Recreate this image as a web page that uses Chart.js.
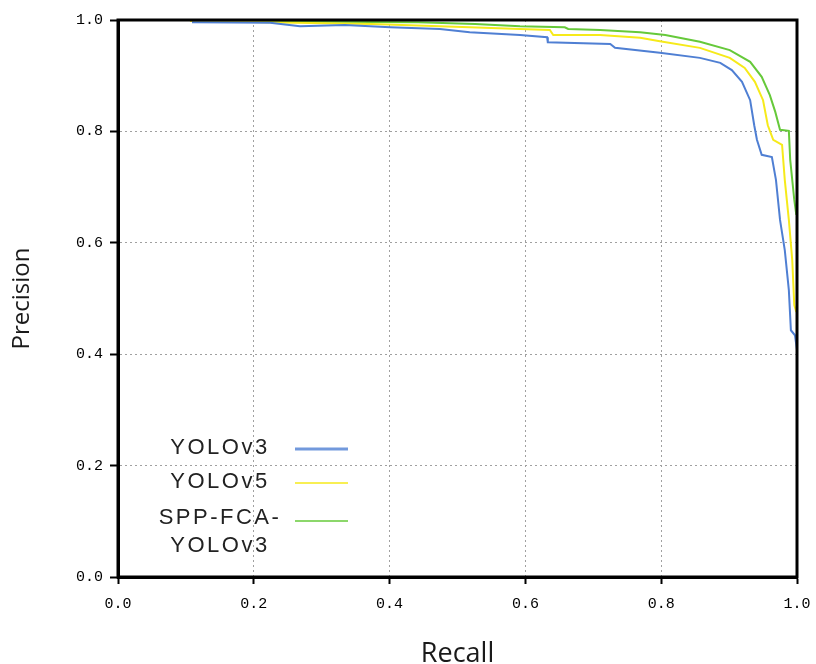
<!DOCTYPE html>
<html>
<head>
<meta charset="utf-8">
<script src="https://cdn.jsdelivr.net/npm/chart.js@4.4.1/dist/chart.umd.min.js"></script>
<style>
  html, body { margin: 0; padding: 0; background: #ffffff; }
  #wrap { width: 816px; height: 664px; }
</style>
</head>
<body>
<div id="wrap"><canvas id="c" width="816" height="664"></canvas></div>
<script>
// ---- Data ----
const seriesLabels = ['YOLOv3', 'YOLOv5', ['SPP-FCA-', 'YOLOv3']];
const yoloV3Recall    = [0.109, 0.224, 0.268, 0.334, 0.401, 0.474, 0.518, 0.592, 0.632, 0.633, 0.725, 0.732, 0.798, 0.857, 0.887, 0.904, 0.919, 0.931, 0.937, 0.941, 0.948, 0.963, 0.969, 0.975, 0.982, 0.988, 0.991, 0.997, 1.000];
const yoloV3Precision = [0.996, 0.995, 0.989, 0.991, 0.987, 0.984, 0.978, 0.973, 0.969, 0.960, 0.957, 0.950, 0.941, 0.932, 0.923, 0.910, 0.889, 0.856, 0.811, 0.785, 0.758, 0.754, 0.713, 0.641, 0.587, 0.515, 0.443, 0.434, 0.408];
const yoloV5Recall    = [0.106, 0.374, 0.518, 0.592, 0.636, 0.641, 0.710, 0.769, 0.798, 0.857, 0.901, 0.923, 0.938, 0.950, 0.957, 0.965, 0.978, 0.982, 0.988, 0.993, 0.996, 0.999];
const yoloV5Precision = [0.998, 0.993, 0.987, 0.984, 0.982, 0.973, 0.973, 0.968, 0.962, 0.950, 0.932, 0.914, 0.889, 0.856, 0.811, 0.785, 0.776, 0.713, 0.641, 0.569, 0.488, 0.476];
const sppRecall       = [0.106, 0.442, 0.526, 0.592, 0.658, 0.663, 0.710, 0.769, 0.806, 0.857, 0.901, 0.931, 0.948, 0.960, 0.968, 0.975, 0.988, 0.990, 0.996, 0.999];
const sppPrecision    = [0.998, 0.996, 0.993, 0.989, 0.987, 0.984, 0.982, 0.978, 0.973, 0.961, 0.946, 0.925, 0.898, 0.865, 0.835, 0.803, 0.801, 0.749, 0.677, 0.650];
const tickValues = [0.0, 0.2, 0.4, 0.6, 0.8, 1.0];

const toPoints = (xs, ys) => xs.map((x, i) => ({ x: x, y: ys[i] }));

const colors = ['#4f7fd3', '#f6ea1a', '#66c93a'];

const frameAndLegend = {
  id: 'frameAndLegend',
  afterDatasetsDraw(chart) {
    const ctx = chart.ctx;
    ctx.save();
    ctx.font = '22px "Liberation Sans", Arial, sans-serif';
    ctx.letterSpacing = '2.5px';
    ctx.fillStyle = '#222222';
    ctx.textAlign = 'center';
    ctx.textBaseline = 'middle';
    const rows = [448, 482, 518];
    const lineRows = [449, 483, 521];
    chart.data.datasets.forEach((ds, i) => {
      const lbl = Array.isArray(ds.label) ? ds.label : [ds.label];
      lbl.forEach((t, j) => ctx.fillText(t, 220, rows[i] + j * 28));
      ctx.beginPath();
      ctx.strokeStyle = ds.borderColor;
      ctx.globalAlpha = i === 0 ? 0.8 : 0.75;
      ctx.lineWidth = i === 0 ? 3 : 2;
      ctx.moveTo(295, lineRows[i]);
      ctx.lineTo(348, lineRows[i]);
      ctx.stroke();
      ctx.globalAlpha = 1;
    });
    ctx.restore();
  },
  afterDraw(chart) {
    const ctx = chart.ctx;
    const a = chart.chartArea;
    ctx.save();
    ctx.strokeStyle = '#000000';
    ctx.lineWidth = 3;
    ctx.strokeRect(a.left, a.top, a.right - a.left, a.bottom - a.top);
    ctx.restore();
  }
};

new Chart(document.getElementById('c'), {
  type: 'line',
  data: {
    datasets: [
      { label: seriesLabels[0], data: toPoints(yoloV3Recall, yoloV3Precision), borderColor: colors[0] },
      { label: seriesLabels[1], data: toPoints(yoloV5Recall, yoloV5Precision), borderColor: colors[1] },
      { label: seriesLabels[2], data: toPoints(sppRecall, sppPrecision), borderColor: colors[2] }
    ].map(d => Object.assign(d, { borderWidth: 2, pointRadius: 0, tension: 0, fill: false }))
  },
  options: {
    responsive: false,
    animation: false,
    layout: { padding: { left: 0, top: 20, right: 19, bottom: 0 } },
    plugins: { legend: { display: false }, tooltip: { enabled: false } },
    scales: {
      x: {
        type: 'linear', min: 0, max: 1,
        afterFit: s => { s.height = 87; s.paddingLeft = 0; s.paddingRight = 0; },
        afterBuildTicks: s => { s.ticks = tickValues.map(v => ({ value: v })); },
        ticks: {
          callback: v => Number(v).toFixed(1),
          font: { family: '"Liberation Mono", monospace', size: 15 },
          color: '#000000', padding: 11, maxRotation: 0
        },
        grid: { color: '#a0a0a0', lineWidth: 1, tickLength: 7, tickColor: '#000000', tickWidth: 2 },
        border: { color: '#000000', width: 3, dash: [2, 3] },
        title: {
          display: true, text: 'Recall', color: '#1a1a1a',
          font: { family: '"Open Sans", sans-serif', size: 27, lineHeight: 0.7 },
          padding: 0
        }
      },
      y: {
        type: 'linear', min: 0, max: 1,
        afterFit: s => { s.width = 118; s.paddingTop = 0; s.paddingBottom = 0; },
        afterBuildTicks: s => { s.ticks = tickValues.map(v => ({ value: v })); },
        ticks: {
          callback: v => Number(v).toFixed(1),
          font: { family: '"Liberation Mono", monospace', size: 15 },
          color: '#000000', padding: 7
        },
        grid: { color: '#a0a0a0', lineWidth: 1, tickLength: 8, tickColor: '#000000', tickWidth: 2 },
        border: { color: '#000000', width: 3, dash: [2, 3] },
        title: {
          display: true, text: 'Precision', color: '#1a1a1a',
          font: { family: '"Open Sans", sans-serif', size: 24, lineHeight: 1.2 },
          padding: { top: 8, bottom: 0 }
        }
      }
    }
  },
  plugins: [frameAndLegend]
});
</script>
</body>
</html>
